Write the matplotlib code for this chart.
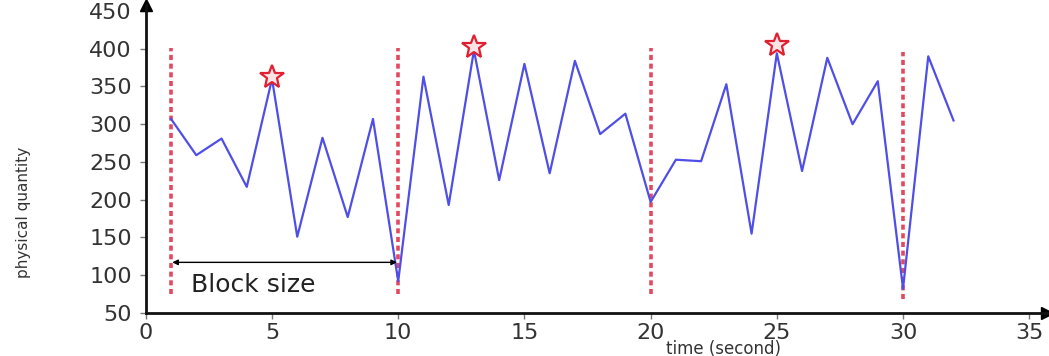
import matplotlib
matplotlib.use("Agg")
import matplotlib.pyplot as plt

# sampled signal, one reading per second
t = list(range(1, 33))
values = [307, 259, 281, 217, 360, 151, 282, 177, 307, 92,
          363, 193, 398, 226, 380, 235, 384, 287, 314, 197,
          253, 251, 353, 155, 394, 238, 388, 300, 357, 82,
          390, 305]

# block boundaries (dashed lines) and their vertical extent
boundaries = [1, 10, 20, 30]
boundary_lo = [75, 75, 75, 68]
boundary_hi = [401, 401, 401, 396]

# peak of each block
peak_t = [5, 13, 25]
peak_v = [362, 402, 405]

xticks = [0, 5, 10, 15, 20, 25, 30, 35]
yticks = [50, 100, 150, 200, 250, 300, 350, 400, 450]

fig = plt.figure(figsize=(10.49, 3.56), dpi=100)
ax = fig.add_axes([0.139, 0.121, 0.859, 0.865])

blue = "#4f4fe8"
red = "#e4485f"

for x, lo, hi in zip(boundaries, boundary_lo, boundary_hi):
    ax.plot([x, x], [lo, hi], color=red, lw=2.6, ls=(0, (1.4, 1.0)), zorder=2)

ax.plot(t, values, color=blue, lw=1.6, zorder=3)
ax.plot(peak_t, peak_v, ls="none", marker="*", ms=18, mfc="#fbe3e6",
        mec="#e02030", mew=1.6, zorder=4)

# block size annotation
ax.annotate("", xy=(1.05, 117), xytext=(9.95, 117),
            arrowprops=dict(arrowstyle="<|-|>", color="black", lw=1.0,
                            mutation_scale=8, shrinkA=0, shrinkB=0))
ax.text(1.8, 87, "Block size", fontsize=18, color="#222222",
        va="center", ha="left")

ax.set_xlim(0, 35.7)
ax.set_ylim(50, 458)
ax.set_xticks(xticks)
ax.set_yticks(yticks)
ax.tick_params(axis="both", labelsize=16, labelcolor="#333333",
               color="#777777", length=4, width=1)
ax.tick_params(axis="y", pad=6)
ax.tick_params(axis="x", pad=3)

for side in ["top", "right"]:
    ax.spines[side].set_visible(False)
for side in ["left", "bottom"]:
    ax.spines[side].set_linewidth(2.0)
    ax.spines[side].set_color("#111111")

# arrow heads at the ends of both axes
ax.plot(1, 0, ">", color="black", ms=8, transform=ax.transAxes, clip_on=False)
ax.plot(0, 1, "^", color="black", ms=8, transform=ax.transAxes, clip_on=False)

fig.text(0.022, 0.404, "physical quantity", rotation=90, va="center",
         ha="center", fontsize=11, color="#333333",
         family=["Liberation Sans Narrow", "DejaVu Sans"])
fig.text(0.69, 0.02, "time (second)", ha="center", va="center",
         fontsize=12, color="#333333")

fig.savefig("out.png", dpi=100)
